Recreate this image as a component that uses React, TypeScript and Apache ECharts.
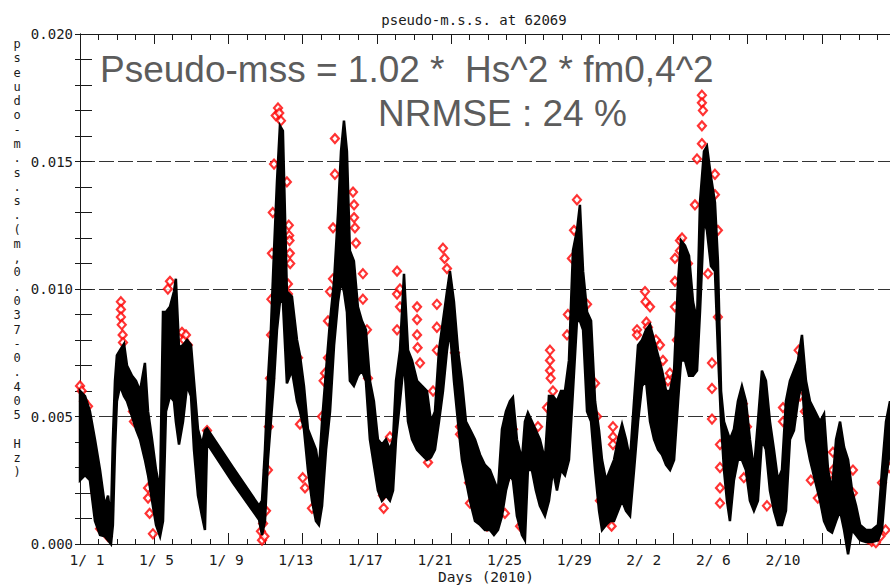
import React, { useEffect, useRef } from "react";
import * as echarts from "echarts";

// ---- axis labels ----
const tickDays = [1, 5, 9, 13, 17, 21, 25, 29, 33, 37, 41]; // day of year 2010
const tickLabels = ["1/ 1", "1/ 5", "1/ 9", "1/13", "1/17", "1/21", "1/25", "1/29", "2/ 2", "2/ 6", "2/10"];
const yLabelText = "pseudo-m.s.s.(m,0.037-0.405 Hz)";

// ---- observed pseudo-m.s.s. (black band), day of year, envelope values in 1e-3 ----
const obsDay = [
  0.60, 0.89, 1.17, 1.46, 1.75, 2.03, 2.21, 2.38, 2.49, 2.61,
  2.72, 2.90, 3.13, 3.30, 3.59, 3.82, 4.05, 4.33, 4.51, 4.74,
  4.97, 5.20, 5.37, 5.54, 5.77, 6.00, 6.11, 6.29, 6.52, 6.75,
  6.98, 7.15, 7.38, 7.61, 7.78, 7.90, 9.39, 10.89, 11.06, 11.23,
  11.40, 11.57, 11.75, 11.92, 12.09, 12.26, 12.49, 12.78, 13.07, 13.24,
  13.47, 13.70, 13.93, 14.16, 14.33, 14.51, 14.74, 14.97, 15.20, 15.43,
  15.60, 15.77, 15.94, 16.11, 16.34, 16.57, 16.80, 17.03, 17.26, 17.49,
  17.72, 17.95, 18.18, 18.41, 18.59, 18.76, 18.99, 19.22, 19.45, 19.68,
  19.97, 20.25, 20.54, 20.77, 21.00, 21.23, 21.46, 21.69, 21.86, 22.09,
  22.32, 22.55, 22.78, 23.01, 23.30, 23.59, 23.87, 24.16, 24.39, 24.62,
  24.85, 25.08, 25.31, 25.48, 25.71, 26.00, 26.17, 26.34, 26.57, 26.80,
  27.03, 27.32, 27.55, 27.78, 28.01, 28.24, 28.47, 28.70, 28.93, 29.16,
  29.33, 29.51, 29.74, 29.97, 30.20, 30.43, 30.60, 30.83, 31.06, 31.29,
  31.52, 31.75, 31.98, 32.21, 32.44, 32.67, 32.90, 33.13, 33.36, 33.59,
  33.82, 34.05, 34.28, 34.51, 34.74, 34.97, 35.14, 35.37, 35.60, 35.83,
  36.06, 36.23, 36.46, 36.63, 36.86, 37.09, 37.26, 37.44, 37.61, 37.78,
  37.95, 38.18, 38.41, 38.64, 38.87, 39.10, 39.33, 39.56, 39.79, 40.02,
  40.25, 40.48, 40.71, 40.94, 41.17, 41.40, 41.63, 41.86, 42.09, 42.32,
  42.55, 42.84, 43.13, 43.36, 43.59, 43.82, 44.05, 44.28, 44.51, 44.74,
  44.97, 45.20, 45.43, 45.77, 46.11, 46.46, 46.69, 46.92, 47.15,
];
const obsHighE3 = [
  6.0, 5.8, 5.2, 4.1, 2.9, 1.5, 1.9, 0.95, 4.1, 6.4,
  7.4, 7.6, 7.85, 7.0, 6.6, 6.4, 6.0, 7.1, 5.2, 4.1,
  2.9, 2.1, 9.1, 9.1, 9.3, 9.9, 10.4, 7.7, 7.8, 8.0,
  7.8, 6.4, 4.5, 3.9, 4.45, 4.53, 3.0, 1.5, 1.7, 3.7,
  6.4, 8.4, 11.5, 14.2, 16.4, 16.2, 9.9, 9.7, 8.0, 7.4,
  6.2, 4.5, 4.1, 3.7, 2.9, 4.8, 6.8, 8.75, 10.3, 13.0,
  15.4, 16.6, 15.4, 11.5, 11.1, 9.3, 8.75, 8.4, 6.4, 5.6,
  4.1, 3.9, 4.1, 3.7, 4.1, 6.4, 7.6, 10.6, 7.6, 7.2,
  6.4, 6.2, 6.0, 4.8, 5.2, 7.6, 8.75, 9.9, 10.7, 9.5,
  7.6, 6.4, 4.8, 4.5, 4.1, 3.5, 3.1, 2.9, 2.5, 2.1,
  4.5, 5.2, 5.6, 5.75, 4.1, 3.3, 4.8, 5.15, 4.8, 4.45,
  4.1, 3.3, 5.8, 5.8, 5.6, 6.0, 6.0, 7.2, 11.5, 12.3,
  13.3, 10.7, 9.1, 8.75, 5.6, 4.45, 3.3, 2.5, 2.9, 3.3,
  4.1, 4.7, 4.1, 3.3, 5.6, 7.8, 8.0, 8.4, 8.6, 8.0,
  7.4, 6.8, 6.0, 6.0, 6.8, 10.3, 11.9, 11.7, 11.3, 9.5,
  8.75, 13.4, 15.4, 15.6, 14.4, 13.4, 11.1, 6.0, 4.8, 4.45,
  4.1, 4.5, 5.6, 6.2, 5.6, 4.1, 2.9, 4.8, 6.8, 6.4,
  4.8, 3.7, 2.5, 2.9, 5.6, 6.4, 6.8, 7.2, 8.2, 6.4,
  5.6, 5.2, 4.8, 5.1, 2.9, 2.1, 4.1, 4.8, 3.8, 3.3,
  2.1, 1.5, 0.75, 0.55, 0.55, 0.75, 2.9, 4.8, 5.6,
];
const obsLowE3 = [
  2.5, 2.7, 2.5, 0.9, 0.35, 0.3, 0.15, 0.0, 0.75, 3.7,
  5.6, 6.2, 5.8, 5.6, 5.0, 4.5, 4.1, 3.3, 2.7, 1.7,
  0.75, 0.3, 0.9, 5.2, 5.8, 5.6, 4.8, 3.9, 4.8, 6.2,
  5.8, 3.7, 1.9, 1.1, 0.55, 3.95, 2.4, 0.95, 0.35, 0.9,
  3.3, 4.8, 6.4, 8.4, 9.5, 9.5, 6.3, 6.8, 5.6, 5.2,
  4.5, 2.9, 1.7, 0.9, 0.75, 1.5, 3.7, 5.2, 7.8, 9.5,
  10.3, 9.9, 9.1, 6.4, 6.2, 6.6, 6.8, 6.4, 4.1, 3.1,
  2.1, 1.7, 1.9, 1.7, 2.1, 4.1, 5.6, 7.2, 4.8, 4.1,
  3.7, 3.5, 3.3, 3.4, 3.7, 4.8, 6.0, 7.6, 8.4, 6.4,
  4.8, 3.3, 2.5, 1.7, 0.9, 0.75, 0.55, 0.55, 0.35, 0.55,
  1.1, 2.1, 2.7, 2.5, 1.1, 0.35, 0.15, 2.9, 2.9, 2.1,
  1.5, 1.1, 1.7, 2.9, 2.1, 2.9, 2.7, 3.3, 6.0, 8.75,
  8.75, 8.4, 5.2, 4.8, 2.9, 1.3, 0.55, 0.75, 0.9, 0.9,
  1.3, 1.7, 1.3, 1.1, 2.9, 4.8, 6.2, 6.4, 4.8, 4.1,
  3.7, 3.5, 3.1, 2.9, 3.3, 5.6, 7.2, 7.2, 6.6, 6.6,
  6.8, 9.1, 12.7, 12.3, 10.9, 10.7, 7.6, 4.8, 2.9, 1.7,
  0.9, 2.5, 3.3, 3.3, 2.9, 1.7, 1.3, 1.7, 4.1, 3.7,
  2.1, 1.3, 0.75, 0.75, 1.3, 4.1, 4.45, 5.6, 6.4, 4.1,
  3.3, 2.5, 1.7, 0.9, 0.55, 0.45, 0.9, 1.3, 0.55, -0.4,
  0.55, 0.35, 0.15, 0.08, 0.08, 0.15, 0.55, 2.5, 3.7,
];

// ---- model pseudo-m.s.s. (red diamonds): [day of year, value in 1e-3] ----
const modelPoints = [
  [0.60, 6.2], [0.70, 6.0], [0.83, 5.6], [1.06, 5.4], [1.29, 3.5], [1.50, 2.0], [1.75, 0.6], [2.20, 0.3],
  [2.95, 9.5], [2.95, 9.2], [2.95, 8.9], [3.00, 8.6], [3.05, 8.2], [3.07, 7.9],
  [3.64, 5.2], [3.70, 4.8], [4.51, 2.2], [4.51, 1.8], [4.60, 1.2], [4.79, 0.4],
  [5.65, 10.0], [5.77, 10.3], [6.46, 8.3], [6.58, 8.0], [6.69, 8.2], [6.80, 7.8], [7.90, 4.45],
  [11.00, 0.5], [11.06, 0.15], [11.12, 0.8], [11.20, 0.3], [11.29, 1.3], [11.40, 2.9], [11.45, 4.6],
  [11.52, 6.5], [11.58, 8.2], [11.60, 9.6], [11.63, 11.4], [11.68, 13.0], [11.75, 14.9],
  [11.85, 16.8], [11.98, 17.1], [12.05, 16.9], [12.15, 16.6],
  [12.49, 14.2], [12.60, 12.5], [12.62, 12.1], [12.64, 11.9], [12.66, 11.4], [12.68, 11.0], [12.55, 10.2], [12.55, 9.8],
  [13.13, 7.3], [13.24, 6.0], [13.24, 4.7], [13.40, 2.6], [13.53, 2.2], [13.93, 1.4],
  [14.51, 5.0], [14.60, 6.4], [14.68, 6.7], [14.85, 8.75], [14.85, 7.3], [14.97, 9.9], [15.14, 12.4], [15.14, 10.4],
  [15.25, 15.9], [15.25, 14.5],
  [16.29, 13.8], [16.35, 13.3], [16.35, 12.8], [16.40, 12.4], [16.46, 11.8],
  [16.86, 10.6], [16.86, 9.6], [17.09, 8.4], [17.15, 6.5],
  [18.01, 2.4], [18.01, 1.9], [18.05, 1.4], [18.41, 4.2],
  [18.82, 10.7], [18.82, 9.8], [18.82, 8.4], [18.99, 10.0], [18.99, 9.3],
  [19.97, 9.3], [19.97, 8.8], [19.97, 8.2], [20.00, 7.7], [20.14, 7.1],
  [20.60, 3.2], [20.89, 6.0], [21.11, 9.4], [21.11, 8.5], [21.11, 7.6],
  [21.46, 11.6], [21.55, 11.2], [21.69, 10.8],
  [22.15, 7.5], [22.44, 4.6], [22.44, 4.3], [22.95, 2.4], [23.01, 1.6], [23.99, 0.7],
  [25.02, 2.5], [25.02, 1.2], [25.48, 4.5], [25.89, 0.7],
  [26.92, 4.6], [26.92, 3.6], [27.15, 1.8],
  [27.44, 5.35], [27.61, 7.6], [27.61, 7.2], [27.61, 6.8], [27.65, 6.5], [27.78, 6.0],
  [28.59, 8.2], [28.64, 9.0], [28.87, 11.2], [28.99, 12.3], [29.16, 13.5],
  [29.74, 9.4], [30.20, 6.3], [30.31, 5.0], [30.48, 1.7],
  [31.06, 1.2], [31.15, 0.7], [31.23, 4.6], [31.23, 4.2], [31.23, 3.9],
  [32.61, 8.4], [32.61, 8.2], [33.07, 9.9], [33.10, 9.5], [33.15, 8.7], [33.24, 8.5], [33.36, 9.3],
  [33.70, 8.0], [33.93, 7.8], [34.10, 7.2], [34.39, 6.4], [34.39, 5.6], [34.39, 5.1], [34.50, 6.7],
  [34.79, 11.2], [34.79, 10.3], [34.79, 9.3], [34.90, 8.0], [35.08, 11.9], [35.08, 11.5], [35.20, 12.0],
  [35.54, 11.0], [35.54, 9.8],
  [35.94, 13.3], [36.06, 15.1], [36.34, 17.6], [36.34, 17.3], [36.40, 17.0], [36.34, 16.4], [36.34, 15.7],
  [36.69, 10.6], [37.09, 14.5], [37.09, 13.7], [37.26, 12.3], [37.26, 8.9], [36.92, 7.1], [36.92, 6.1], [36.92, 4.9],
  [37.38, 3.9], [37.38, 3.0], [37.38, 2.2], [37.38, 1.6],
  [38.70, 5.5], [38.80, 5.0], [38.93, 4.6], [38.75, 2.6],
  [40.08, 1.5], [41.00, 5.35], [41.00, 4.8],
  [41.90, 7.6], [41.98, 7.0], [41.98, 6.4], [41.98, 5.8], [42.26, 5.2],
  [42.60, 2.5], [43.00, 1.8], [43.87, 3.6], [43.87, 2.9], [43.87, 2.5],
  [45.02, 2.9], [45.02, 2.0], [45.50, 0.4], [45.89, 0.2], [46.10, 0.1], [46.34, 0.05], [46.60, 0.3],
  [46.69, 2.4], [46.90, 0.55], [47.10, 3.0],
];

const MONO = '"DejaVu Sans Mono", monospace';
const INK = "#1a1a1a";

export default function App() {
  const ref = useRef<HTMLDivElement>(null);

  useEffect(() => {
    document.body.style.margin = "0";
    const chart = echarts.init(ref.current!, null, { renderer: "svg" });
    const E3 = 0.001;
    const redData = modelPoints.map(([d, v]) => [d, v * E3]);

    const tickAxis = (pos: "top" | "bottom", interval: number, length: number, line: boolean) => ({
      type: "value",
      min: 0,
      max: 43.67,
      interval,
      position: pos,
      axisLine: { show: line, lineStyle: { color: INK, width: 1 } },
      axisTick: { show: true, inside: true, length, lineStyle: { color: INK, width: 1 } },
      axisLabel: { show: false },
      splitLine: { show: false },
    });

    const renderBand = (_params: any, api: any) => {
      const pts: number[][] = [];
      for (let i = 0; i < obsDay.length; i++) pts.push(api.coord([obsDay[i], obsHighE3[i] * E3]));
      for (let i = obsDay.length - 1; i >= 0; i--) pts.push(api.coord([obsDay[i], obsLowE3[i] * E3]));
      return {
        type: "polygon",
        shape: { points: pts },
        style: { fill: "#000", stroke: "#000", lineWidth: 2.5, lineJoin: "miter" },
      };
    };

    chart.setOption({
      animation: false,
      backgroundColor: "#ffffff",
      grid: { left: 80, right: 0, top: 34, bottom: 44, containLabel: false },
      xAxis: [
        {
          type: "value",
          min: 0.6,
          max: 47.15,
          position: "bottom",
          axisLine: { show: true, lineStyle: { color: INK, width: 1 } },
          axisTick: { show: false },
          splitLine: { show: false },
          axisLabel: {
            customValues: tickDays,
            formatter: (v: number) => tickLabels[tickDays.indexOf(Math.round(v))] ?? "",
            margin: 8,
            fontFamily: MONO,
            fontSize: 14.5,
            color: INK,
          },
        },
        tickAxis("bottom", 1, 5, false),
        tickAxis("bottom", 4, 11, false),
        tickAxis("top", 1, 6, true),
        tickAxis("top", 4, 10, false),
      ],
      yAxis: [
        {
          type: "value",
          min: 0,
          max: 0.02,
          interval: 0.005,
          position: "left",
          axisLine: { show: true, lineStyle: { color: INK, width: 1 } },
          axisTick: { show: false },
          axisLabel: {
            formatter: (v: number) => v.toFixed(3),
            margin: 7,
            fontFamily: MONO,
            fontSize: 14,
            color: INK,
          },
          splitLine: {
            show: true,
            showMinLine: false,
            showMaxLine: false,
            lineStyle: { color: "#333", width: 1, type: [15, 4] },
          },
        },
        {
          type: "value",
          min: 0,
          max: 0.02,
          interval: 0.001,
          position: "left",
          axisLine: { show: false },
          axisTick: { show: true, inside: true, length: 12, lineStyle: { color: INK } },
          axisLabel: { show: false },
          splitLine: { show: false },
        },
        {
          type: "value",
          min: 0,
          max: 0.02,
          interval: 0.001,
          position: "right",
          axisLine: { show: true, lineStyle: { color: INK } },
          axisTick: { show: true, inside: true, length: 5, lineStyle: { color: INK } },
          axisLabel: { show: false },
          splitLine: { show: false },
        },
      ],
      series: [
        {
          name: "model",
          type: "scatter",
          data: redData,
          symbol: "diamond",
          symbolSize: [8, 9],
          itemStyle: { color: "#ffffff", borderColor: "#ff0000", borderWidth: 2.2 },
          z: 2,
          clip: false,
        },
        {
          name: "observed",
          type: "custom",
          data: [[obsDay[0], obsLowE3[0] * E3]],
          renderItem: renderBand,
          z: 3,
          clip: false,
        },
      ],
      graphic: [
        {
          type: "text",
          x: 474,
          y: 20,
          z: 10,
          style: { text: "pseudo-m.s.s. at 62069", font: `14px ${MONO}`, fill: INK, align: "center", verticalAlign: "middle" },
        },
        {
          type: "text",
          x: 486,
          y: 577,
          z: 10,
          style: { text: "Days (2010)", font: `14.5px ${MONO}`, fill: INK, align: "center", verticalAlign: "middle" },
        },
        {
          type: "text",
          x: 100,
          y: 69,
          z: 20,
          style: {
            text: "Pseudo-mss = 1.02 *  Hs^2 * fm0,4^2",
            font: '37px "Liberation Sans", Arial, sans-serif',
            fill: "#5c5c5c",
            align: "left",
            verticalAlign: "middle",
          },
        },
        {
          type: "text",
          x: 378,
          y: 113,
          z: 20,
          style: {
            text: "NRMSE : 24 %",
            font: '37px "Liberation Sans", Arial, sans-serif',
            fill: "#5c5c5c",
            align: "left",
            verticalAlign: "middle",
          },
        },
        {
          type: "text",
          x: 17,
          y: 37,
          z: 10,
          style: {
            text: yLabelText.split("").join("\n"),
            font: `12px ${MONO}`,
            lineHeight: 14.27,
            fill: INK,
            align: "center",
            verticalAlign: "top",
          },
        },
      ],
    });
    return () => chart.dispose();
  }, []);

  return <div ref={ref} style={{ width: 890, height: 588 }} />;
}
